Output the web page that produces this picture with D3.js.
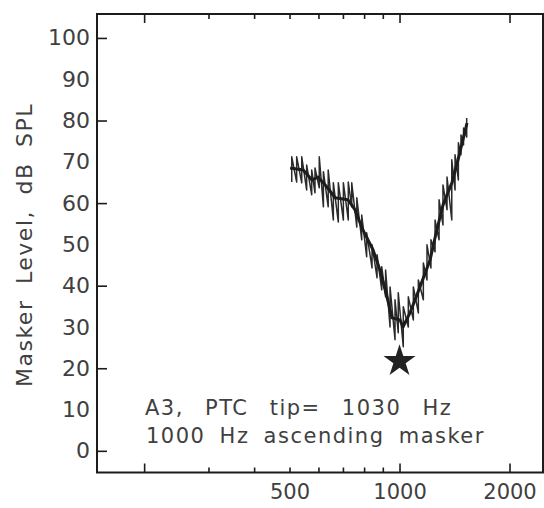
<!DOCTYPE html>
<html>
<head>
<meta charset="utf-8">
<script src="https://cdn.jsdelivr.net/npm/d3@7"></script>
<style>
  body { margin: 0; background: #fff; }
  svg { display: block; }
</style>
</head>
<body>
<svg id="chart" width="544" height="508"></svg>
<script>
// tick values
var xMajorTicks = [200, 1000, 2000];
var xMinorTicks = [300, 400, 500, 600, 700, 800, 900];
var xTickLabels = [500, 1000, 2000];
var yTicks = [0, 20, 40, 60, 80, 100];
var yTickLabels = [0, 10, 20, 30, 40, 50, 60, 70, 80, 90, 100];

// tracking excursions (Hz, dB SPL)
var spikeFreq = [507, 523, 540, 557, 575, 587, 603, 619, 638, 659, 680, 702, 724, 740, 764, 788, 813, 841, 868, 894,
                 916, 942, 972, 992, 1024, 1057, 1091, 1126, 1162, 1189, 1219, 1251, 1283, 1315, 1349, 1390, 1419, 1449, 1473, 1497, 1527];
var spikeHigh = [71.2, 71.2, 71.2, 69.2, 68.0, 68.5, 71.2, 67.6, 68.0, 64.9, 64.9, 64.9, 65.1, 64.9, 61.3, 57.1, 52.8, 49.9, 47.5, 44.6,
                 43.8, 39.7, 36.6, 38.3, 34.9, 37.3, 39.7, 41.4, 45.5, 49.9, 51.1, 55.9, 60.8, 64.4, 66.3, 70.5, 71.7, 74.6, 76.5, 78.2, 80.6];
var spikeLow  = [65.1, 65.1, 64.9, 63.2, 62.0, 62.5, 63.7, 59.1, 59.1, 55.9, 55.4, 55.9, 55.9, 59.1, 54.2, 51.1, 47.0, 44.3, 41.9, 39.0,
                 37.3, 30.0, 26.9, 28.6, 25.2, 30.0, 31.7, 33.4, 36.6, 41.4, 44.3, 48.2, 51.1, 54.7, 58.4, 55.9, 63.2, 65.6, 71.7, 74.1, 76.0];

// smoothed threshold curve
var centerFreq  = [502, 545, 576, 598, 633, 666, 723, 755, 794, 846, 884, 924, 954, 1003, 1022, 1068, 1138, 1212, 1259, 1315, 1392, 1446, 1530];
var centerLevel = [68.5, 68.0, 65.6, 66.3, 63.9, 61.3, 60.8, 58.4, 53.5, 48.7, 43.8, 37.3, 32.2, 31.7, 30.0, 33.4, 39.7, 46.2, 52.7, 59.5, 65.0, 70.5, 79.4];

// probe tone
var probeFreq = 1000;
var probeLevel = 21.7;

var svg = d3.select("#chart");
var ink = "#1c1c1c";
var textInk = "#404040";
var fontFam = "'DejaVu Sans', sans-serif";

var plotLeft = 97, plotRight = 543, plotTop = 14, plotBottom = 472.5;

var x = d3.scaleLog().domain([148.6, 2470]).range([plotLeft, plotRight]);
var y = d3.scaleLinear().domain([-5.25, 105.8]).range([plotBottom, plotTop]);

function cleanAxis(g) {
  g.select(".domain").remove();
  g.selectAll(".tick line").attr("stroke", ink).attr("stroke-width", 1.6);
}

// bottom ticks
svg.append("g").attr("transform", "translate(0," + plotBottom + ")")
  .call(d3.axisBottom(x).tickValues(xMajorTicks).tickSize(-9).tickFormat(""))
  .call(cleanAxis);
svg.append("g").attr("transform", "translate(0," + plotBottom + ")")
  .call(d3.axisBottom(x).tickValues(xMinorTicks).tickSize(-5).tickFormat(""))
  .call(cleanAxis);
// top ticks
svg.append("g").attr("transform", "translate(0," + plotTop + ")")
  .call(d3.axisTop(x).tickValues(xMajorTicks).tickSize(-9).tickFormat(""))
  .call(cleanAxis);
svg.append("g").attr("transform", "translate(0," + plotTop + ")")
  .call(d3.axisTop(x).tickValues(xMinorTicks).tickSize(-5).tickFormat(""))
  .call(cleanAxis);

// bottom labels
var xLab = svg.append("g").attr("transform", "translate(0," + plotBottom + ")")
  .call(d3.axisBottom(x).tickValues(xTickLabels).tickSize(0).tickPadding(12).tickFormat(d3.format("d")));
xLab.select(".domain").remove();
xLab.selectAll("text").attr("font-family", fontFam).attr("font-size", 21).attr("fill", textInk);

// left ticks
svg.append("g").attr("transform", "translate(" + plotLeft + ",0)")
  .call(d3.axisLeft(y).tickValues(yTicks).tickSize(-10).tickFormat(""))
  .call(cleanAxis);
var yLab = svg.append("g").attr("transform", "translate(" + plotLeft + ",0)")
  .call(d3.axisLeft(y).tickValues(yTickLabels).tickSize(0).tickPadding(7).tickFormat(d3.format("d")));
yLab.select(".domain").remove();
yLab.selectAll("text").attr("font-family", fontFam).attr("font-size", 22).attr("fill", textInk);

// frame
svg.append("path")
  .attr("d", "M" + plotLeft + "," + plotTop + "H" + plotRight + "V" + plotBottom + "H" + plotLeft + "Z")
  .attr("fill", "none").attr("stroke", ink).attr("stroke-width", 2);

// y title
svg.append("text")
  .attr("transform", "translate(32,245) rotate(-90)")
  .attr("text-anchor", "middle")
  .attr("font-family", fontFam).attr("font-size", 22).attr("fill", textInk)
  .style("letter-spacing", "1.5px").style("word-spacing", "7px")
  .text("Masker Level, dB SPL");

// tracking trace
var track = [];
spikeFreq.forEach(function(f, i) {
  track.push([f, spikeLow[i]]);
  track.push([f, spikeHigh[i]]);
});
var line = d3.line().x(function(d) { return x(d[0]); }).y(function(d) { return y(d[1]); });

svg.append("path")
  .datum(track)
  .attr("d", line)
  .attr("fill", "none").attr("stroke", "#2a2a2a").attr("stroke-width", 1.5)
  .attr("stroke-linejoin", "round");

svg.append("path")
  .datum(centerFreq.map(function(f, i) { return [f, centerLevel[i]]; }))
  .attr("d", line)
  .attr("fill", "none").attr("stroke", ink).attr("stroke-width", 3)
  .attr("stroke-linejoin", "round");

// probe star
svg.append("path")
  .attr("d", d3.symbol().type(d3.symbolStar).size(320)())
  .attr("transform", "translate(" + x(probeFreq) + "," + y(probeLevel) + ")")
  .attr("fill", "#222");

// annotation
svg.append("text")
  .attr("x", 145).attr("y", 415)
  .attr("font-family", fontFam).attr("font-size", 21).attr("fill", textInk)
  .style("letter-spacing", "1.5px").style("word-spacing", "13px")
  .text("A3, PTC tip= 1030 Hz");
svg.append("text")
  .attr("x", 146).attr("y", 443)
  .attr("font-family", fontFam).attr("font-size", 21).attr("fill", textInk)
  .style("letter-spacing", "1.5px").style("word-spacing", "6px")
  .text("1000 Hz ascending masker");
</script>
</body>
</html>
